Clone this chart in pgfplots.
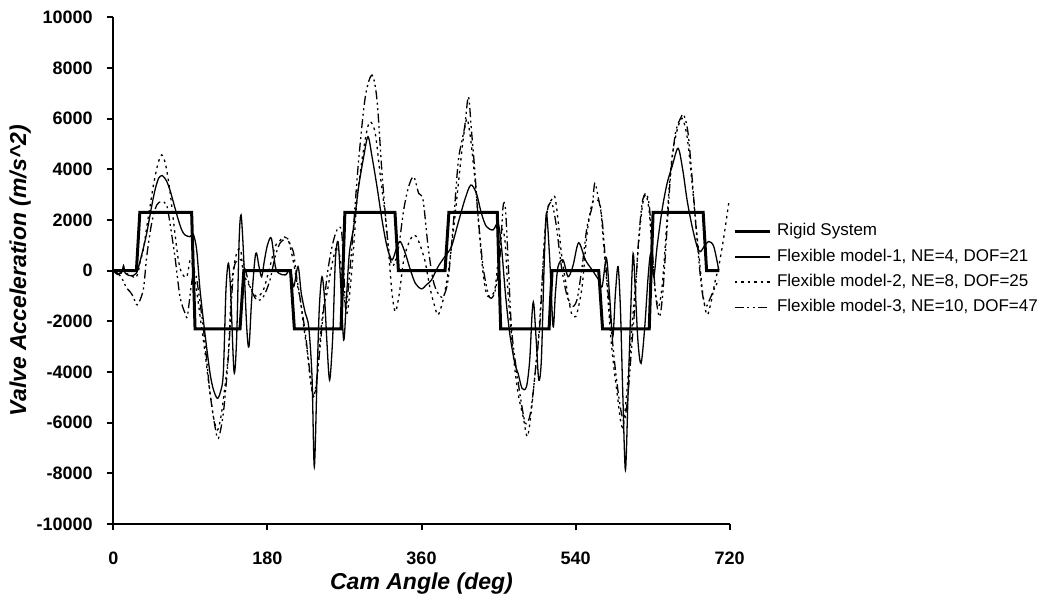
\documentclass[border=0pt]{standalone}
\usepackage{fontspec}
\setmainfont{Liberation Sans}
\usepackage{pgfplots}
\pgfplotsset{compat=1.18}
\begin{document}
\begin{tikzpicture}
\path[use as bounding box] (0pt,0pt) rectangle (1038pt,601pt);
\begin{axis}[
 at={(113.3pt,77pt)}, anchor=south west,
 width=616.4pt, height=506.7pt, scale only axis,
 xmin=0, xmax=720, ymin=-10000, ymax=10000,
 axis x line=bottom, axis y line=left,
 axis line style={-, line width=2.2pt},
 xtick={0,180,360,540,720}, ytick={-10000,-8000,...,10000},
 tick align=outside, major tick length=6.5pt,
 every tick/.style={black, line width=2pt},
 /pgf/number format/assume math mode=true,
 /pgf/number format/1000 sep={},
 scaled y ticks=false,
 tick label style={font=\fontsize{18}{21}\selectfont\bfseries, inner sep=0pt},
 xticklabel style={anchor=north, yshift=-21pt},
 yticklabel style={anchor=east, xshift=-14pt},
 xlabel={Cam Angle (deg)}, ylabel={Valve Acceleration (m/s\textasciicircum 2)},
 label style={font=\fontsize{23}{26}\selectfont\bfseries\itshape},
 xlabel style={at={(axis description cs:0.5,-0.117)}, anchor=center},
 ylabel style={at={(axis description cs:-0.151,0.5)}, anchor=center},
 legend style={at={(axis description cs:1.0054,0.5922)}, anchor=north west,
   draw=none, fill=none, inner sep=0pt, outer sep=0pt,
   nodes={inner sep=0pt, text height=12pt, text depth=3.5pt},
   row sep=9.7pt, column sep=6pt, font=\fontsize{17}{20}\selectfont},
 legend cell align=left,
 legend image code/.code={\draw[#1] (0pt,0pt) -- (35pt,0pt);},
 clip=false,
]
\addplot[black, line width=3pt, sharp plot] coordinates {
(0,0) (27,0) (31,2300) (91.5,2300) (95.5,-2300) (148,-2300) (152.5,0) (207,0) (211.5,-2300) (266,-2300) (270.5,2300) (329,2300) (333,0) (387.5,0) (392,2300) (448.5,2300) (452.5,-2300) (509,-2300) (512.5,0) (567,0) (571.5,-2300) (626,-2300) (630.5,2300) (689,2300) (693,0) (708,0)
};
\addlegendentry{Rigid System}
\addplot[black, line width=1.3pt, smooth, tension=0.5] coordinates {
(0,0) (5,-150) (10,-50) (12,200) (14,-100) (20,-200) (27,-100) (33,600) (39,1470) (44,2400) (48.7,3180) (53,3650) (57.3,3750) (62,3550) (66.2,3180) (71,2600) (76,2000) (80,1600) (83.7,1410) (89.6,1340) (93.5,1430) (97.4,815) (101.3,-760) (107,-2470) (113,-4050) (117,-4700) (121.5,-5040) (125,-4800) (128.5,-4050) (131.6,-760) (134.4,290) (137,-760) (141,-3990) (144,-2740) (147,1210) (149.2,2200) (151.9,815) (155.8,-2210) (158.5,-3000) (161.6,-1160) (166.3,680) (170.2,160) (173.3,-240) (176.5,400) (180,1000) (184.6,1280) (189.3,160) (193.2,-100) (201,-170) (206.8,30) (210.7,-630) (215.8,160) (219.6,-900) (224.3,-1680) (228.2,-2210) (232.1,-4180) (234.8,-7740) (238,-4180) (240.7,-1420) (243.8,-240) (246.9,-1160) (249.6,-2870) (252.7,-4320) (256.3,-2610) (259.4,420) (262.5,1150) (265.2,-240) (269.1,-2740) (272.2,-1160) (275.7,680) (280.8,1740) (286.6,3320) (292.5,4500) (297.5,5290) (302.2,4500) (308,3320) (313.9,2000) (319.7,950) (325.6,420) (331.4,950) (335.3,1150) (341.1,680) (347,30) (352.8,-500) (360,-720) (366,-550) (371.6,-370) (379.4,160) (387.2,550) (395,950) (402.7,1870) (410.5,2790) (417.5,3380) (424.1,3050) (430,2260) (435.8,1740) (443.6,1610) (449.5,1870) (453.4,950) (458,-900) (463,-2470) (469,-3660) (472.8,-4050) (477.5,-4650) (482.6,-4580) (486.4,-3530) (489.2,-1680) (491.1,-1290) (494.2,-2870) (497,-4320) (500,-3530) (503.2,160) (505.9,2260) (509.8,420) (513.7,-2210) (516.4,-900) (519.5,160) (525.4,420) (531.2,-240) (537,200) (543.5,1100) (551.5,420) (559.3,30) (567,-370) (571,-630) (576,490) (579.5,-900) (583.4,-2610) (586.5,-900) (589.6,160) (592.4,-1550) (595.1,-4840) (598.2,-7870) (601.3,-4840) (604.4,-1550) (607.2,680) (609.9,-900) (613,-2870) (616.5,-3660) (620.8,-2210) (624.7,-240) (627.8,680) (631.3,-240) (635.2,950) (641,2400) (646.9,3450) (652.7,4110) (659.7,4830) (665.2,3970) (670.2,2790) (676.1,1740) (681.9,950) (685.8,750) (690,950) (695.6,1150) (701.4,950) (707.2,30)
};
\addlegendentry{Flexible model-1, NE=4, DOF=21}
\addplot[black, line width=1.3pt, smooth, tension=0.5, dash pattern=on 2.5pt off 4pt] coordinates {
(0,0) (10,-100) (20,-150) (25,-300) (29,-100) (31,300) (35,815) (39,1700) (42.9,2530) (47,3400) (52,4200) (56.5,4570) (61,4200) (66,3180) (72,1470) (76,420) (80,-100) (85.7,-250) (89.6,400) (92,300) (95.4,-370) (99,-1200) (103,-2210) (107,-3200) (111,-4320) (116.9,-5760) (121.5,-6290) (125,-5900) (128.5,-5100) (134.4,-3260) (138.3,-500) (144,680) (148.8,815) (151.9,-100) (159.7,-630) (167.5,-1030) (175.3,-760) (183,160) (189,950) (194,1150) (199,1340) (204.9,1150) (210.7,290) (214.6,-500) (218.5,-1160) (222.4,-2210) (226.3,-3130) (230.2,-4320) (234,-4970) (238,-4320) (241.8,-2610) (245.7,-1420) (249.6,-900) (253.5,-100) (257.4,550) (261.3,950) (265.2,420) (269.1,-900) (273,-1680) (276.9,-630) (280.8,950) (284.7,2790) (290.5,4370) (296.4,5550) (300.3,5880) (306,5420) (312,3710) (317.8,2130) (321.7,680) (325.6,-900) (329.5,-1620) (334.1,-900) (339.2,420) (345,1080) (350.9,1410) (356,1210) (363.8,420) (369.6,-630) (375.5,-1420) (379.4,-1750) (385.2,-1160) (391,-100) (396.9,1470) (402.7,3320) (408.6,5160) (413,6000) (417,5300) (420.3,4300) (424.1,3000) (428,1340) (431.9,-100) (435.8,-900) (439.7,-1030) (445.6,-760) (449.5,420) (452.6,1500) (455.3,1600) (458,1000) (461.1,-900) (467,-3260) (472.8,-4840) (478.7,-5760) (483.7,-6550) (488.4,-5500) (492.3,-4180) (496.2,-2870) (500,-900) (504,1470) (507.9,2530) (511.8,2790) (515.7,2920) (519.5,2000) (523.4,680) (529.3,-630) (535.1,-1680) (539,-1820) (541.7,-1680) (547.6,-630) (553.4,1470) (559.3,2660) (565.1,2790) (569,2530) (572.9,950) (576.8,-630) (580.7,-2470) (584.6,-3790) (588.5,-4840) (592.4,-5900) (595.5,-6160) (599,-5100) (602.9,-3530) (606.8,-1820) (610.7,-240) (614.6,1470) (618.5,2660) (622.3,2990) (626.2,2260) (629.4,680) (633.3,-900) (637.1,-1420) (641,-630) (644.9,1080) (648.8,3050) (652.7,4500) (658.6,5550) (664.4,6010) (670.2,5290) (675.3,3710) (680,2000) (683.9,680) (688.5,-900) (693.6,-1750) (698.7,-1160) (703.3,-370) (707.2,160) (713,1300) (719,2700)
};
\addlegendentry{Flexible model-2, NE=8, DOF=25}
\addplot[black, line width=1.3pt, smooth, tension=0.5, dash pattern=on 9pt off 3.5pt on 2pt off 3.5pt on 2pt off 3.5pt] coordinates {
(0,0) (5,-100) (10,-300) (15.6,-690) (19.5,-830) (23.4,-1030) (28,-1350) (35,-760) (39,550) (44.8,1870) (50.7,2590) (56.5,2720) (62.3,2590) (66.2,1870) (72,550) (77.9,-1030) (83.8,-1680) (86.5,-1800) (90.4,-760) (93.5,-100) (96.6,-170) (101,-1200) (105,-2210) (109,-3500) (113,-4840) (118.8,-6160) (122.7,-6620) (128.5,-5630) (134.4,-3400) (140.2,-100) (146,420) (151.9,290) (159.7,-630) (167.5,-1160) (175.3,-1030) (183,-370) (189,550) (195,1100) (202.9,1280) (207,1000) (210.7,680) (214,-200) (218.5,-1160) (224.3,-2470) (230.2,-4180) (234,-4970) (238,-4180) (243.8,-2210) (249.6,-240) (255.5,950) (261.3,1610) (266.4,1610) (269,200) (271.5,-1500) (275,-500) (280,1500) (286.6,4370) (294.4,6870) (302.2,7720) (308,6740) (313.9,3840) (319.7,1470) (323.6,420) (327.5,220) (333.4,950) (339.2,2400) (345,3320) (350.9,3710) (356.7,3050) (361.8,2790) (367.7,950) (373.5,-370) (379.4,-900) (385.2,-1030) (391,-370) (396.9,1740) (402.7,4240) (406.6,5030) (410.5,5690) (414.8,6870) (418.3,5550) (422.2,3970) (426.1,2130) (431.9,160) (437.8,-900) (441.7,-1090) (446.3,-760) (451.4,420) (455.3,2530) (458,2460) (460.4,950) (465,-2210) (470.9,-3920) (476.7,-5240) (481.4,-6030) (486.4,-5760) (490.3,-4840) (494.2,-3530) (498.1,-2210) (502,160) (505.9,2130) (509.8,2660) (513,2600) (517.6,1740) (523.4,160) (529.3,-900) (535.1,-1420) (541.5,-1160) (547.6,160) (553.4,1740) (559.3,2530) (562.4,3450) (567,2790) (571,2000) (574.8,420) (578.7,-1160) (582.6,-2610) (586.5,-3920) (590.4,-4970) (594.3,-5760) (597.4,-5900) (601.3,-4840) (605.2,-3130) (609.1,-1420) (613,950) (617.7,2660) (622.3,3050) (626.2,2530) (629.4,950) (633.3,-900) (638,-1820) (641.8,-900) (645.7,1080) (650.8,3710) (656.6,5420) (662.5,6010) (666.3,6150) (671.4,5420) (676.9,3320) (681.9,1210) (687,-630) (691.7,-1420) (696.3,-1160) (701.4,-760) (707.2,-370)
};
\addlegendentry{Flexible model-3, NE=10, DOF=47}
\end{axis}
\end{tikzpicture}
\end{document}
